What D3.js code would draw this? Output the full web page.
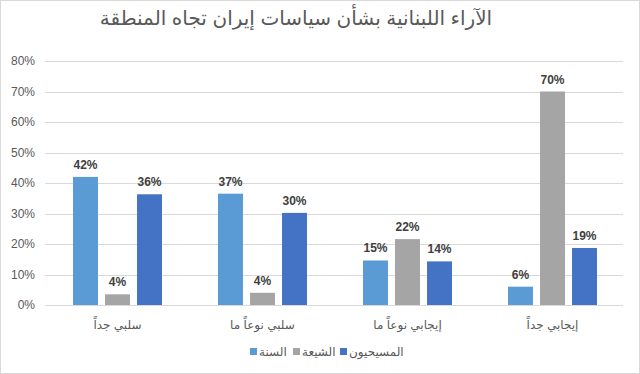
<!DOCTYPE html>
<html>
<head>
<meta charset="utf-8">
<script src="https://cdn.jsdelivr.net/npm/d3@7"></script>
<style>
  body { margin: 0; background: #fff; }
  svg { display: block; }
  text { font-family: "Liberation Sans", "DejaVu Sans", sans-serif; }
</style>
</head>
<body>
<div id="chart"></div>
<script>
// chart data
var title = "الآراء اللبنانية بشأن سياسات إيران تجاه المنطقة";
var categories = ["سلبي جداً", "سلبي نوعاً ما", "إيجابي نوعاً ما", "إيجابي جداً"];
var seriesNames = ["السنة", "الشيعة", "المسيحيون"];
var sunni = [42, 36.5, 14.6, 6];
var shia = [3.5, 4, 21.6, 70];
var christian = [36.3, 30.2, 14.3, 18.7];
var sunniLabels = ["42%", "37%", "15%", "6%"];
var shiaLabels = ["4%", "4%", "22%", "70%"];
var christianLabels = ["36%", "30%", "14%", "19%"];
var yTicks = [0, 10, 20, 30, 40, 50, 60, 70, 80];

var colors = ["#5B9BD5", "#A5A5A5", "#4472C4"];
var W = 640, H = 374;
var plotLeft = 45, plotRight = 625, plotTop = 61, plotBottom = 305;

var svg = d3.select("#chart").append("svg")
  .attr("width", W)
  .attr("height", H);

svg.append("rect")
  .attr("x", 0.5).attr("y", 0.5)
  .attr("width", W - 1).attr("height", H - 1)
  .attr("fill", "#fff")
  .attr("stroke", "#d9d9d9");

svg.append("text")
  .attr("x", 296).attr("y", 25)
  .attr("text-anchor", "middle")
  .attr("direction", "rtl")
  .style("font-size", "20px")
  .style("fill", "#595959")
  .text(title);

var y = d3.scaleLinear().domain([0, 80]).range([plotBottom, plotTop]);
var x0 = d3.scaleBand().domain(categories).range([plotLeft, plotRight]);
var x1 = d3.scaleBand().domain(seriesNames).range([28, 117]).paddingInner(0.22);

// gridlines + y labels
svg.selectAll(".grid").data(yTicks).enter().append("line")
  .attr("x1", plotLeft).attr("x2", plotRight - 2)
  .attr("y1", function(d){ return Math.round(y(d)) + 0.5; })
  .attr("y2", function(d){ return Math.round(y(d)) + 0.5; })
  .attr("stroke", "#d9d9d9")
  .attr("stroke-width", 1);

svg.selectAll(".ylab").data(yTicks).enter().append("text")
  .attr("x", 35)
  .attr("y", function(d){ return y(d) + 4; })
  .attr("text-anchor", "end")
  .style("font-size", "12px")
  .style("fill", "#595959")
  .text(function(d){ return d + "%"; });

var series = [
  { name: seriesNames[0], values: sunni, labels: sunniLabels, color: colors[0] },
  { name: seriesNames[1], values: shia, labels: shiaLabels, color: colors[1] },
  { name: seriesNames[2], values: christian, labels: christianLabels, color: colors[2] }
];

series.forEach(function(s){
  var g = svg.append("g");
  g.selectAll("rect").data(s.values).enter().append("rect")
    .attr("x", function(d, i){ return x0(categories[i]) + x1(s.name); })
    .attr("y", function(d){ return y(d); })
    .attr("width", x1.bandwidth())
    .attr("height", function(d){ return plotBottom - y(d); })
    .attr("fill", s.color);

  g.selectAll("text").data(s.values).enter().append("text")
    .attr("x", function(d, i){ return x0(categories[i]) + x1(s.name) + x1.bandwidth() / 2; })
    .attr("y", function(d){ return y(d) - 8; })
    .attr("text-anchor", "middle")
    .style("font-size", "12px")
    .style("font-weight", "bold")
    .style("fill", "#404040")
    .text(function(d, i){ return s.labels[i]; });
});

// category labels
svg.selectAll(".xlab").data(categories).enter().append("text")
  .attr("x", function(d){ return x0(d) + x0.bandwidth() / 2; })
  .attr("y", 329)
  .attr("text-anchor", "middle")
  .attr("direction", "rtl")
  .style("font-size", "12px")
  .style("fill", "#595959")
  .text(function(d){ return d; });

// legend
var legendX = [250, 293, 340];
series.forEach(function(s, i){
  svg.append("rect")
    .attr("x", legendX[i]).attr("y", 348)
    .attr("width", 7).attr("height", 7)
    .attr("fill", s.color);
  svg.append("text")
    .attr("x", legendX[i] + 9).attr("y", 356)
    .attr("text-anchor", "start")
    .style("font-size", "12px")
    .style("fill", "#595959")
    .text(s.name);
});
</script>
</body>
</html>
